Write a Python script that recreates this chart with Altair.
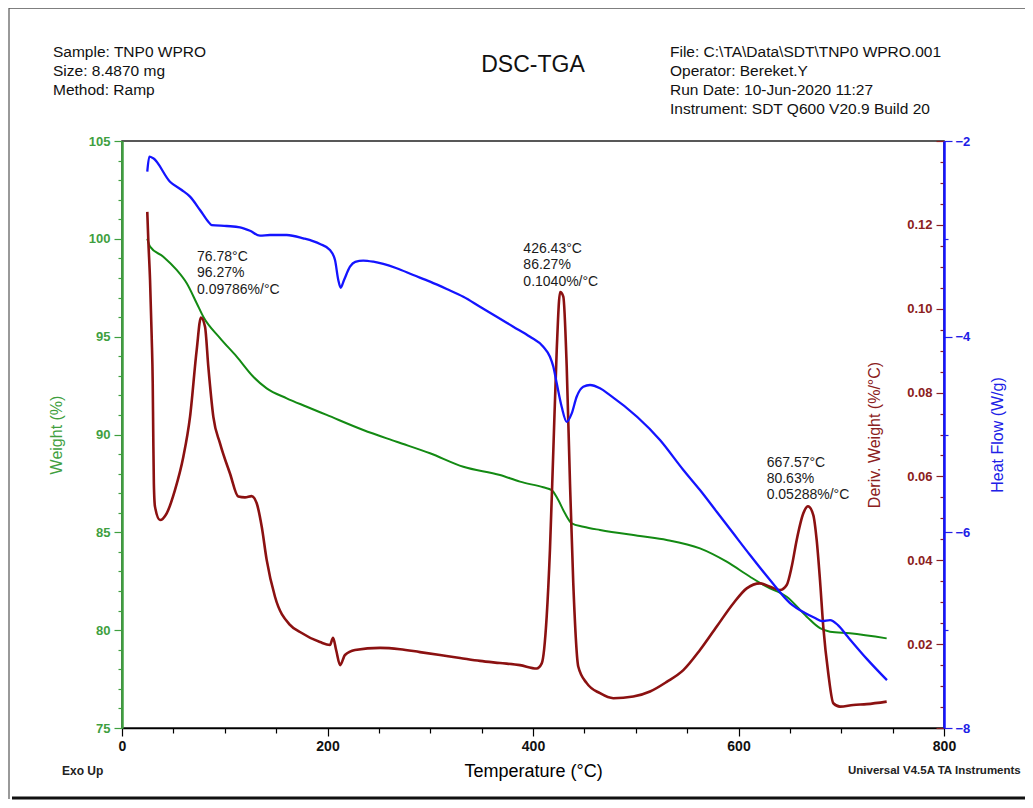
import altair as alt
import pandas as pd

# ---------------- data ----------------
weight_temp = [24.6, 27.3, 40.2, 53.2, 63.0, 72.7, 79.1, 95.4, 111.6, 127.8,
               140.8, 160.3, 179.8, 199.2, 234.8, 267.3, 299.8, 332.2, 367.9, 387.3,
               410.0, 418.2, 424.6, 431.1, 437.7, 449.0, 465.2, 504.1, 530.1, 562.5,
               588.5, 611.2, 627.4, 646.9, 666.4, 679.3, 689.1, 708.5, 744.2]
weight_pct = [100.0, 99.60, 99.09, 98.41, 97.73, 96.71, 96.02, 94.93, 93.98, 92.95,
              92.36, 91.85, 91.42, 91.00, 90.23, 89.63, 89.04, 88.35, 87.93, 87.59,
              87.30, 87.16, 86.65, 85.97, 85.46, 85.29, 85.12, 84.81, 84.61, 84.18,
              83.50, 82.73, 82.22, 81.71, 80.69, 80.10, 79.92, 79.84, 79.58]

deriv_temp = [24.6, 25.6, 27.3, 28.9, 29.9, 30.4, 31.0, 32.1, 37.0, 43.5,
              51.6, 59.7, 66.2, 72.7, 76.8, 80.8, 84.0, 88.9, 95.4, 105.1,
              113.2, 119.7, 126.2, 131.1, 136.0, 140.8, 148.9, 163.5, 173.2, 192.7,
              202.4, 205.4, 208.4, 212.3, 217.0, 226.8, 251.1, 270.6, 290.0, 309.5,
              329.0, 348.4, 367.9, 387.3, 403.6, 408.5, 413.3, 416.5, 419.8, 423.1,
              426.4, 429.5, 432.8, 436.0, 439.2, 444.1, 452.3, 465.2, 478.2, 497.6,
              513.9, 530.1, 546.3, 562.5, 578.8, 594.9, 608.0, 620.9, 630.7, 640.4,
              646.9, 651.8, 656.6, 663.1, 667.6, 672.8, 676.1, 679.3, 682.5, 687.4,
              692.3, 698.8, 711.7, 724.7, 744.2]
deriv_val = [0.1231, 0.1164, 0.1068, 0.0933, 0.0822, 0.0703, 0.0584, 0.0528, 0.0496, 0.0512,
             0.0568, 0.0647, 0.0742, 0.0902, 0.0979, 0.0957, 0.0862, 0.0742, 0.0679, 0.0607,
             0.0552, 0.0550, 0.0553, 0.0536, 0.0480, 0.0401, 0.0313, 0.0246, 0.0229, 0.0205,
             0.0198, 0.0215, 0.0186, 0.0150, 0.0174, 0.0186, 0.0191, 0.0188, 0.0181, 0.0174,
             0.0167, 0.0160, 0.0155, 0.0150, 0.0142, 0.0154, 0.0265, 0.0425, 0.0663, 0.0902,
             0.1040, 0.1029, 0.0862, 0.0584, 0.0345, 0.0146, 0.0107, 0.0083, 0.0071, 0.0075,
             0.0087, 0.0110, 0.0138, 0.0186, 0.0242, 0.0297, 0.0333, 0.0345, 0.0337, 0.0329,
             0.0341, 0.0385, 0.0448, 0.0512, 0.0529, 0.0508, 0.0448, 0.0353, 0.0242, 0.0130,
             0.0059, 0.0051, 0.0055, 0.0057, 0.0063]

heat_temp = [24.6, 26.6, 30.5, 46.7, 58.1, 66.2, 75.9, 84.0, 87.3, 101.9,
             114.8, 124.6, 134.3, 144.0, 160.3, 176.4, 192.7, 202.4, 207.3, 210.5,
             212.8, 216.1, 221.9, 227.0, 234.8, 244.6, 254.3, 267.3, 283.5, 299.8,
             316.0, 332.2, 348.4, 364.7, 380.8, 397.1, 410.0, 416.5, 419.8, 423.1,
             427.9, 432.8, 437.7, 442.5, 448.9, 455.5, 465.2, 474.9, 523.6, 546.3,
             562.5, 578.8, 594.9, 611.2, 630.7, 650.1, 664.7, 674.5, 681.3, 689.1,
             696.8, 706.6, 725.1, 744.5]
heat_flow = [-2.314, -2.160, -2.177, -2.416, -2.501, -2.569, -2.705, -2.825, -2.859, -2.869,
             -2.882, -2.917, -2.968, -2.961, -2.961, -2.995, -3.053, -3.114, -3.217, -3.421,
             -3.500, -3.421, -3.285, -3.235, -3.222, -3.234, -3.257, -3.301, -3.370, -3.438,
             -3.513, -3.592, -3.694, -3.796, -3.898, -4.001, -4.103, -4.205, -4.307, -4.477,
             -4.716, -4.870, -4.784, -4.614, -4.512, -4.494, -4.528, -4.597, -5.057, -5.363,
             -5.568, -5.790, -6.010, -6.232, -6.488, -6.723, -6.825, -6.876, -6.907, -6.897,
             -6.948, -7.071, -7.296, -7.511]

# peak annotations (temperature, weight position, text)
ann_temp = [73.0, 73.0, 73.0, 390.6, 390.6, 390.6, 627.4, 627.4, 627.4]
ann_weight = [99.07, 98.23, 97.39, 99.47, 98.66, 97.81, 88.53, 87.71, 86.91]
ann_text = ["76.78°C", "96.27%", "0.09786%/°C",
            "426.43°C", "86.27%", "0.1040%/°C",
            "667.57°C", "80.63%", "0.05288%/°C"]

header_left = ["Sample: TNP0 WPRO", "Size:  8.4870 mg", "Method: Ramp"]
header_right = ["File: C:\\TA\\Data\\SDT\\TNP0 WPRO.001", "Operator: Bereket.Y",
                "Run Date: 10-Jun-2020 11:27", "Instrument: SDT Q600 V20.9 Build 20"]
main_title = "DSC-TGA"
foot_left = "Exo Up"
foot_right = "Universal V4.5A TA Instruments"

x_ticks = list(range(0, 801, 50))
w_ticks = list(range(75, 106, 1))
d_ticks = [round(i * 0.005, 3) for i in range(0, 29)]
h_ticks = [round(-8 + i * 0.25, 2) for i in range(0, 25)]

# ---------------- styling ----------------
PW, PH = 822, 587
FONT = "Liberation Sans"
GREEN = "#138a13"
GREEN_LBL = "#3f9f3f"
RED = "#8b1111"
RED_LBL = "#8b2020"
BLUE = "#1414ff"
BLUE_LBL = "#2020e6"

x_scale = alt.Scale(domain=[0, 800], nice=False, zero=False)
x_axis = alt.Axis(
    values=x_ticks,
    labelExpr="abs(datum.value % 200) < 0.001 ? datum.label : ''",
    title="Temperature (°C)", titleFont=FONT, titleFontSize=18,
    titleFontWeight="normal", titleColor="black", titlePadding=9,
    labelFont=FONT, labelFontSize=14, labelFontWeight="bold", labelColor="#111",
    labelPadding=3, labelFlush=False, labelOverlap=False,
    tickColor="black", tickWidth=1.2,
    tickSize={"condition": {"test": "abs(datum.value % 200) < 0.001", "value": 8}, "value": 5},
    domainColor="black", domainWidth=1.5, grid=False,
)
x_enc = alt.X("T:Q", scale=x_scale, axis=x_axis)

# weight (left axis)
wdf = pd.DataFrame({"T": weight_temp, "W": weight_pct})
wline = alt.Chart(wdf).mark_line(color=GREEN, strokeWidth=2, interpolate="monotone").encode(
    x=x_enc,
    y=alt.Y(
        "W:Q", scale=alt.Scale(domain=[75, 105], nice=False, zero=False),
        axis=alt.Axis(
            orient="left", values=w_ticks,
            labelExpr="abs(datum.value % 5) < 0.001 ? datum.label : ''",
            title="Weight (%)", titleFont=FONT, titleFontSize=16, titleFontWeight="normal",
            titleColor=GREEN_LBL, titlePadding=24,
            labelFont=FONT, labelFontSize=13, labelFontWeight="bold", labelColor=GREEN_LBL,
            labelPadding=4, labelFlush=False, labelOverlap=False,
            tickColor=GREEN_LBL, tickWidth=1.2,
            tickSize={"condition": {"test": "abs(datum.value % 5) < 0.001", "value": 8}, "value": 4},
            domainColor=GREEN_LBL, domainWidth=2.5, grid=False,
        ),
    ),
)
# annotations: same weight domain, own (identical) scale, no axis
adf = pd.DataFrame({"T": ann_temp, "W": ann_weight, "txt": ann_text})
atext = alt.Chart(adf).mark_text(align="left", baseline="middle", font=FONT, fontSize=14,
                                 color="#1a1a1a").encode(
    x=x_enc,
    y=alt.Y("W:Q", scale=alt.Scale(domain=[75, 105], nice=False, zero=False), axis=None),
    text="txt:N",
)

# derivative weight (inner right axis)
ddf = pd.DataFrame({"T": deriv_temp, "D": deriv_val})
dline = alt.Chart(ddf).mark_line(color=RED, strokeWidth=2.6, interpolate="monotone").encode(
    x=x_enc,
    y=alt.Y(
        "D:Q", scale=alt.Scale(domain=[0, 0.14], nice=False, zero=False),
        axis=alt.Axis(
            orient="left", offset=-PW, values=d_ticks, format=".2f",
            labelExpr="(datum.value > 0.001 && datum.value < 0.139 && abs(datum.value*50 - round(datum.value*50)) < 0.001) ? datum.label : ''",
            title="Deriv. Weight (%/°C)", titleFont=FONT, titleFontSize=16,
            titleFontWeight="normal", titleColor=RED_LBL, titlePadding=24,
            labelFont=FONT, labelFontSize=13, labelFontWeight="bold", labelColor=RED_LBL,
            labelPadding=4, labelFlush=False, labelOverlap=False,
            tickColor=RED_LBL, tickWidth=1.2,
            tickSize={"condition": {"test": "abs(datum.value*50 - round(datum.value*50)) < 0.001", "value": 8}, "value": 4},
            domain=False, grid=False,
        ),
    ),
)

# heat flow (outer right axis)
hdf = pd.DataFrame({"T": heat_temp, "H": heat_flow})
hline = alt.Chart(hdf).mark_line(color=BLUE, strokeWidth=2.3, interpolate="monotone").encode(
    x=x_enc,
    y=alt.Y(
        "H:Q", scale=alt.Scale(domain=[-8, -2], nice=False, zero=False),
        axis=alt.Axis(
            orient="right", values=h_ticks, format="d",
            labelExpr="abs(datum.value % 2) < 0.001 ? datum.label : ''",
            title="Heat Flow (W/g)", titleFont=FONT, titleFontSize=16, titleFontWeight="normal",
            titleColor=BLUE_LBL, titlePadding=36, titleAngle=270,
            labelFont=FONT, labelFontSize=13, labelFontWeight="bold", labelColor=BLUE_LBL,
            labelPadding=3, labelFlush=False, labelOverlap=False,
            tickColor=BLUE_LBL, tickWidth=1.2,
            tickSize={"condition": {"test": "abs(datum.value % 2) < 0.001", "value": 8}, "value": 4},
            domainColor=BLUE, domainWidth=2.5, grid=False,
        ),
    ),
)

# decorations (texts outside the plot and page frame)
one = pd.DataFrame({"k": [0]})
t_left = alt.Chart(one).mark_text(text=header_left, align="left", baseline="top", font=FONT,
                                  fontSize=15.5, lineHeight=19, color="#111").encode(
    x=alt.value(-69), y=alt.value(-96))
t_right = alt.Chart(one).mark_text(text=header_right, align="left", baseline="top", font=FONT,
                                   fontSize=15.5, lineHeight=19, color="#111").encode(
    x=alt.value(548), y=alt.value(-96))
t_title = alt.Chart(one).mark_text(text=main_title, align="center", baseline="middle", font=FONT,
                                   fontSize=23, color="#111").encode(
    x=alt.value(411), y=alt.value(-76))
t_foot_l = alt.Chart(one).mark_text(text=foot_left, align="left", baseline="middle", font=FONT,
                                    fontSize=12, fontWeight="bold", color="#222").encode(
    x=alt.value(-60), y=alt.value(630))
t_foot_r = alt.Chart(one).mark_text(text=foot_right, align="left", baseline="middle", font=FONT,
                                    fontSize=11.5, fontWeight="bold", color="#222").encode(
    x=alt.value(726), y=alt.value(630))
frame_left = alt.Chart(one).mark_rule(color="#777", strokeWidth=1.5).encode(
    x=alt.value(-113), y=alt.value(-133), y2=alt.value(658))
frame_top = alt.Chart(one).mark_rule(color="#555", strokeWidth=1.5).encode(
    x=alt.value(-113), x2=alt.value(920), y=alt.value(-133))
frame_bottom = alt.Chart(one).mark_rule(color="#111", strokeWidth=3).encode(
    x=alt.value(-110), x2=alt.value(920), y=alt.value(657))

chart = alt.layer(
    wline, dline, hline, atext,
    t_left, t_right, t_title, t_foot_l, t_foot_r,
    frame_left, frame_top, frame_bottom,
).resolve_scale(y="independent").properties(
    width=PW, height=PH,
    autosize=alt.AutoSizeParams(type="none"),
    padding={"left": 114, "top": 133, "right": 81, "bottom": 72},
    background="white",
).configure_view(stroke="#222", strokeWidth=1.5)

chart.save("out.html", embed_options={"renderer": "svg", "actions": False})
